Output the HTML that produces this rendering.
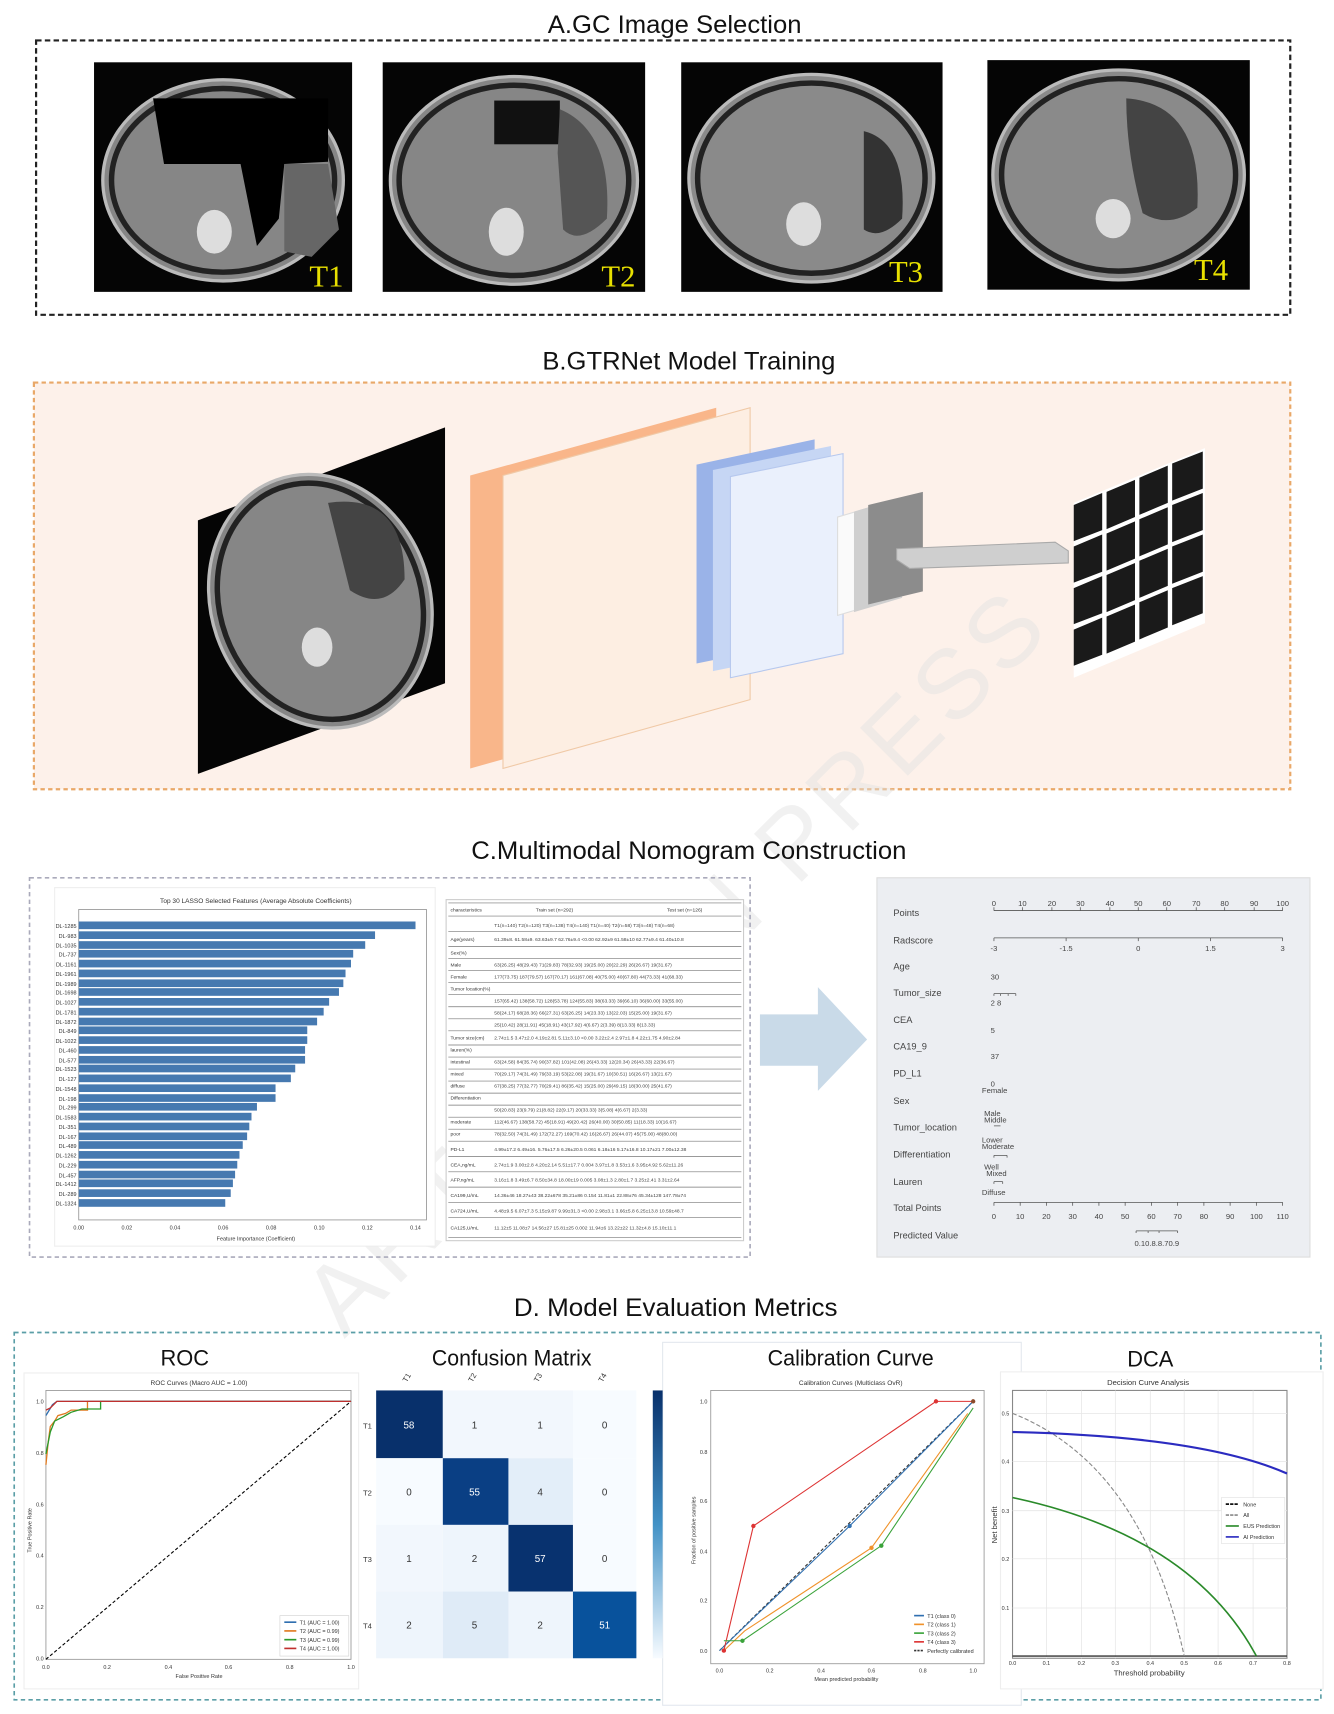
<!DOCTYPE html>
<html><head><meta charset="utf-8"><style>
html,body{margin:0;padding:0;background:#fff}
svg{display:block}
text{font-family:"Liberation Sans",sans-serif}
.tl{font-family:"Liberation Serif",serif}
</style></head><body>
<svg width="1334" height="1714" viewBox="0 0 1220 1568" preserveAspectRatio="none" xmlns="http://www.w3.org/2000/svg">
<rect width="1220" height="1568" fill="#fff"/>
<!-- A -->
<text x="617" y="30" font-size="23" text-anchor="middle" fill="#111" textLength="232" lengthAdjust="spacingAndGlyphs">A.GC Image Selection</text>
<rect x="33" y="37" width="1147" height="251" fill="none" stroke="#222" stroke-width="2" stroke-dasharray="5,3"/>
<g>
<rect x="86" y="57" width="236" height="210" fill="#050505"/>
<ellipse cx="204" cy="165" rx="110" ry="92" fill="#868686" stroke="#bbb" stroke-width="3"/>
<ellipse cx="204" cy="165" rx="102" ry="84" fill="none" stroke="#222" stroke-width="5"/>
<path d="M140,90 L300,90 L300,148 L260,150 L255,200 L235,225 L220,150 L150,150 Z" fill="#000"/>
<path d="M260,150 L300,150 L310,210 L285,235 L260,230 Z" fill="#666"/>
<ellipse cx="196" cy="212" rx="16" ry="20" fill="#ddd"/>
<text x="283" y="262" font-size="28" fill="#e8e000" class="tl">T1</text>
<rect x="350" y="57" width="240" height="210" fill="#050505"/>
<ellipse cx="470" cy="165" rx="113" ry="95" fill="#868686" stroke="#bbb" stroke-width="3"/>
<ellipse cx="470" cy="165" rx="105" ry="87" fill="none" stroke="#222" stroke-width="5"/>
<rect x="452" y="92" width="60" height="40" fill="#111"/>
<path d="M512,100 Q560,120 555,200 Q530,225 515,210 L510,140 Z" fill="#555"/>
<ellipse cx="463" cy="212" rx="16" ry="22" fill="#ddd"/>
<text x="550" y="262" font-size="28" fill="#e8e000" class="tl">T2</text>
<rect x="623" y="57" width="239" height="210" fill="#050505"/>
<ellipse cx="742" cy="163" rx="112" ry="95" fill="#8a8a8a" stroke="#bbb" stroke-width="3"/>
<ellipse cx="742" cy="163" rx="104" ry="87" fill="none" stroke="#222" stroke-width="5"/>
<path d="M790,120 Q830,130 825,200 Q805,220 790,210 Z" fill="#333"/>
<ellipse cx="735" cy="205" rx="16" ry="20" fill="#ddd"/>
<text x="813" y="258" font-size="28" fill="#e8e000" class="tl">T3</text>
<rect x="903" y="55" width="240" height="210" fill="#050505"/>
<ellipse cx="1023" cy="160" rx="115" ry="96" fill="#8a8a8a" stroke="#bbb" stroke-width="3"/>
<ellipse cx="1023" cy="160" rx="107" ry="88" fill="none" stroke="#222" stroke-width="5"/>
<path d="M1030,90 Q1100,95 1095,190 Q1070,210 1045,195 Q1030,140 1030,90 Z" fill="#444"/>
<ellipse cx="1018" cy="200" rx="16" ry="18" fill="#ddd"/>
<text x="1092" y="256" font-size="28" fill="#e8e000" class="tl">T4</text>
</g>
<!-- B -->
<text x="630" y="338" font-size="23" text-anchor="middle" fill="#111" textLength="268" lengthAdjust="spacingAndGlyphs">B.GTRNet Model Training</text>
<rect x="31" y="350" width="1149" height="372" fill="#fdf1ea" stroke="#e9a868" stroke-width="2" stroke-dasharray="4,3"/>
<polygon points="181,476 407,391 407,625 181,708" fill="#050505"/>
<ellipse cx="293" cy="550" rx="100" ry="118" fill="#868686" stroke="#bbb" stroke-width="3" transform="rotate(-20 293 550)"/>
<ellipse cx="293" cy="550" rx="92" ry="110" fill="none" stroke="#222" stroke-width="5" transform="rotate(-20 293 550)"/>
<path d="M300,460 Q370,450 370,530 Q350,560 320,540 Z" fill="#444"/>
<ellipse cx="290" cy="592" rx="14" ry="18" fill="#ddd"/>
<polygon points="430,435 655,373 655,640 430,703" fill="#f9b68a"/>
<polygon points="460,435 686,373 686,640 460,703" fill="#fdeee2" stroke="#f0c9a6" stroke-width="1"/>
<polygon points="637,425 745,402 745,585 637,607" fill="#9ab3e8"/>
<polygon points="652,430 760,408 760,592 652,614" fill="#c6d6f4"/>
<polygon points="668,436 771,415 771,598 668,620" fill="#eaf0fc" stroke="#b6c8ee"/>
<polygon points="766,473 810,460 810,550 766,563" fill="#fafafa" stroke="#ddd"/>
<polygon points="781,468 825,455 825,547 781,560" fill="#cfcfcf"/>
<polygon points="794,462 844,450 844,541 794,553" fill="#8c8c8c"/>
<polygon points="820,502 965,496 977,504 977,515 832,520 820,512" fill="#cfcfcf" stroke="#aaa"/>
<polygon points="982,460 1102,410 1102,570 982,620" fill="#fff"/>
<g fill="#1a1a1a">
<polygon points="982,462 1008,451 1008,485 982,495"/><polygon points="1012,450 1038,439 1038,473 1012,484"/><polygon points="1042,437 1068,426 1068,460 1042,471"/><polygon points="1072,424 1100,413 1100,447 1072,458"/>
<polygon points="982,500 1008,489 1008,523 982,533"/><polygon points="1012,488 1038,477 1038,511 1012,522"/><polygon points="1042,475 1068,464 1068,498 1042,509"/><polygon points="1072,462 1100,451 1100,485 1072,496"/>
<polygon points="982,538 1008,527 1008,561 982,571"/><polygon points="1012,526 1038,515 1038,549 1012,560"/><polygon points="1042,513 1068,502 1068,536 1042,547"/><polygon points="1072,500 1100,489 1100,523 1072,534"/>
<polygon points="982,576 1008,565 1008,599 982,609"/><polygon points="1012,564 1038,553 1038,587 1012,598"/><polygon points="1042,551 1068,540 1068,574 1042,585"/><polygon points="1072,538 1100,527 1100,561 1072,572"/>
</g>
<!-- watermark -->
<text x="640" y="900" font-size="90" fill="#e2e2e2" opacity="0.45" text-anchor="middle" transform="rotate(-45 640 900)" letter-spacing="6">ARTICLE IN PRESS</text>
<!-- C -->
<text x="630" y="786" font-size="23" text-anchor="middle" fill="#111" textLength="398" lengthAdjust="spacingAndGlyphs">C.Multimodal Nomogram Construction</text>
<rect x="27" y="803" width="659" height="347" fill="none" stroke="#aab" stroke-width="1.5" stroke-dasharray="4,3"/>
<rect x="50" y="812" width="348" height="328" fill="#fff" stroke="#eee"/>
<text x="234" y="826" font-size="6" text-anchor="middle" fill="#333">Top 30 LASSO Selected Features (Average Absolute Coefficients)</text>
<rect x="72" y="832" width="318" height="284" fill="none" stroke="#999" stroke-width="0.8"/>
<g fill="#4679b0">
<rect x="72" y="843" width="308" height="7"/><rect x="72" y="852" width="271" height="7"/><rect x="72" y="861" width="262" height="7"/><rect x="72" y="869" width="251" height="7"/><rect x="72" y="878" width="249" height="7"/><rect x="72" y="887" width="244" height="7"/><rect x="72" y="896" width="242" height="7"/><rect x="72" y="904" width="238" height="7"/><rect x="72" y="913" width="229" height="7"/><rect x="72" y="922" width="224" height="7"/><rect x="72" y="931" width="218" height="7"/><rect x="72" y="939" width="209" height="7"/><rect x="72" y="948" width="209" height="7"/><rect x="72" y="957" width="207" height="7"/><rect x="72" y="966" width="207" height="7"/><rect x="72" y="974" width="198" height="7"/><rect x="72" y="983" width="194" height="7"/><rect x="72" y="992" width="180" height="7"/><rect x="72" y="1001" width="180" height="7"/><rect x="72" y="1009" width="163" height="7"/><rect x="72" y="1018" width="158" height="7"/><rect x="72" y="1027" width="156" height="7"/><rect x="72" y="1036" width="154" height="7"/><rect x="72" y="1044" width="150" height="7"/><rect x="72" y="1053" width="147" height="7"/><rect x="72" y="1062" width="145" height="7"/><rect x="72" y="1071" width="143" height="7"/><rect x="72" y="1079" width="141" height="7"/><rect x="72" y="1088" width="139" height="7"/><rect x="72" y="1097" width="134" height="7"/>
</g>
<g font-size="5" fill="#333" text-anchor="end">
<text x="70" y="849">DL-1285</text><text x="70" y="858">DL-983</text><text x="70" y="867">DL-1035</text><text x="70" y="875">DL-737</text><text x="70" y="884">DL-1161</text><text x="70" y="893">DL-1961</text><text x="70" y="902">DL-1989</text><text x="70" y="910">DL-1698</text><text x="70" y="919">DL-1027</text><text x="70" y="928">DL-1781</text><text x="70" y="937">DL-1872</text><text x="70" y="945">DL-849</text><text x="70" y="954">DL-1022</text><text x="70" y="963">DL-460</text><text x="70" y="972">DL-577</text><text x="70" y="980">DL-1523</text><text x="70" y="989">DL-127</text><text x="70" y="998">DL-1548</text><text x="70" y="1007">DL-198</text><text x="70" y="1015">DL-299</text><text x="70" y="1024">DL-1583</text><text x="70" y="1033">DL-351</text><text x="70" y="1042">DL-167</text><text x="70" y="1050">DL-489</text><text x="70" y="1059">DL-1262</text><text x="70" y="1068">DL-229</text><text x="70" y="1077">DL-457</text><text x="70" y="1085">DL-1412</text><text x="70" y="1094">DL-289</text><text x="70" y="1103">DL-1324</text>
</g>
<g font-size="5" fill="#333" text-anchor="middle">
<text x="72" y="1125">0.00</text><text x="116" y="1125">0.02</text><text x="160" y="1125">0.04</text><text x="204" y="1125">0.06</text><text x="248" y="1125">0.08</text><text x="292" y="1125">0.10</text><text x="336" y="1125">0.12</text><text x="380" y="1125">0.14</text>
<text x="234" y="1135">Feature Importance (Coefficient)</text>
</g>
<!-- table -->
<rect x="408" y="823" width="272" height="312" fill="#fff" stroke="#ccc"/>
<g stroke="#777" stroke-width="0.6">
<line x1="410" y1="826" x2="678" y2="826"/><line x1="410" y1="838" x2="678" y2="838"/><line x1="410" y1="852" x2="678" y2="852"/><line x1="410" y1="866" x2="678" y2="866"/><line x1="410" y1="877" x2="678" y2="877"/><line x1="410" y1="888" x2="678" y2="888"/><line x1="410" y1="899" x2="678" y2="899"/><line x1="410" y1="910" x2="678" y2="910"/><line x1="410" y1="921" x2="678" y2="921"/><line x1="410" y1="932" x2="678" y2="932"/><line x1="410" y1="943" x2="678" y2="943"/><line x1="410" y1="956" x2="678" y2="956"/><line x1="410" y1="967" x2="678" y2="967"/><line x1="410" y1="978" x2="678" y2="978"/><line x1="410" y1="989" x2="678" y2="989"/><line x1="410" y1="1000" x2="678" y2="1000"/><line x1="410" y1="1011" x2="678" y2="1011"/><line x1="410" y1="1022" x2="678" y2="1022"/><line x1="410" y1="1033" x2="678" y2="1033"/><line x1="410" y1="1044" x2="678" y2="1044"/><line x1="410" y1="1058" x2="678" y2="1058"/><line x1="410" y1="1072" x2="678" y2="1072"/><line x1="410" y1="1086" x2="678" y2="1086"/><line x1="410" y1="1100" x2="678" y2="1100"/><line x1="410" y1="1114" x2="678" y2="1114"/><line x1="410" y1="1132" x2="678" y2="1132"/>
</g>
<g font-size="4.5" fill="#333">
<text x="412" y="834">characteristics</text><text x="490" y="834">Train set (n=292)</text><text x="610" y="834">Test set (n=126)</text>
<text x="412" y="861">Age(years)</text><text x="412" y="873">Sex(%)</text><text x="412" y="884">Male</text><text x="412" y="895">Female</text><text x="412" y="906">Tumor location(%)</text><text x="412" y="951">Tumor size(cm)</text><text x="412" y="962">lauren(%)</text><text x="412" y="973">intestinal</text><text x="412" y="984">mixed</text><text x="412" y="995">diffuse</text><text x="412" y="1006">Differentiation</text><text x="412" y="1028">moderate</text><text x="412" y="1039">poor</text><text x="412" y="1053">PD-L1</text><text x="412" y="1067">CEA,ng/mL</text><text x="412" y="1081">AFP,ng/mL</text><text x="412" y="1095">CA199,U/mL</text><text x="412" y="1109">CA724,U/mL</text><text x="412" y="1125">CA125,U/mL</text>
</g>
<g font-size="4.5" fill="#444">
<text x="452" y="848">T1(n=140) T2(n=120) T3(n=138) T4(n=140)   T1(n=40) T2(n=58) T3(n=48) T4(n=68)</text>
<text x="452" y="861">61.39±8.  61.58±9.  63.63±9.7  62.76±9.4  &lt;0.00  62.92±9  61.58±10  62.77±9.4  61.40±10.8</text>
<text x="452" y="884">63(26.25) 48(29.43) 71(29.83) 78(32.93)   19(25.00) 20(22.29) 26(26.67) 19(31.67)</text>
<text x="452" y="895">177(73.75) 187(79.57) 167(70.17) 161(67.08)  40(75.00) 40(67.80) 44(73.33) 41(68.33)</text>
<text x="452" y="917">157(65.42) 138(58.72) 128(53.78) 124(55.83)  38(63.33) 39(66.10) 36(60.00) 33(55.00)</text>
<text x="452" y="928">58(24.17) 68(28.36) 66(27.31) 63(26.25)   14(23.33) 13(22.03) 15(25.00) 19(31.67)</text>
<text x="452" y="939">25(10.42) 28(11.91) 45(18.91) 43(17.92)   4(6.67)  2(3.39)  8(13.33) 8(13.33)</text>
<text x="452" y="951">2.74±1.5  3.47±2.0  4.19±2.81  5.11±3.10  &lt;0.00  3.22±2.4  2.97±1.8  4.22±1.75  4.90±2.84</text>
<text x="452" y="973">63(24.58) 84(35.74) 90(37.82) 101(42.08)  26(43.33) 12(20.34) 26(43.33) 22(36.67)</text>
<text x="452" y="984">70(29.17) 74(31.49) 79(33.19) 53(22.08)   19(31.67) 10(30.51) 16(26.67) 13(21.67)</text>
<text x="452" y="995">67(38.25) 77(32.77) 70(29.41) 86(35.42)   15(25.00) 29(49.15) 18(30.00) 25(41.67)</text>
<text x="452" y="1017">50(20.83) 23(9.79) 21(8.82) 22(9.17)     20(33.33) 3(5.08)  4(6.67)  2(3.33)</text>
<text x="452" y="1028">112(46.67) 138(58.72) 45(18.91) 49(20.42)  26(40.00) 30(50.85) 11(18.33) 10(16.67)</text>
<text x="452" y="1039">78(32.50) 74(31.49) 172(72.27) 169(70.42)  16(26.67) 26(44.07) 45(75.00) 48(80.00)</text>
<text x="452" y="1053">4.99±17.2 6.49±16. 5.76±17.5 6.26±20.5  0.061  6.18±16  5.17±16.8  10.17±21  7.00±12.38</text>
<text x="452" y="1067">2.74±1.9  3.00±2.8  4.20±2.14  5.51±17.7  0.004  3.97±1.8  3.53±1.6  3.95±4.92  5.62±11.26</text>
<text x="452" y="1081">3.16±1.8  3.49±6.7  8.50±34.8  18.00±19  0.005  3.08±1.3  2.80±1.7  3.25±2.41  3.31±2.64</text>
<text x="452" y="1095">14.36±46  18.27±43  38.22±678  35.21±86  0.154  11.81±1  22.88±76  45.34±128  147.78±74</text>
<text x="452" y="1109">4.48±9.5  6.07±7.3  5.15±9.87  9.99±31.3  &lt;0.00  2.98±3.1  3.66±5.8  6.25±13.8  10.59±48.7</text>
<text x="452" y="1125">11.12±5   11.08±7   14.56±27  15.81±25  0.002  11.94±6  13.22±22  11.32±4.8  15.10±11.1</text>
</g>
<!-- arrow -->
<polygon points="695,928 748,928 748,903 793,951 748,998 748,975 695,975" fill="#c9dae8"/>
<!-- nomogram -->
<rect x="802" y="803" width="396" height="347" fill="#eceef2" stroke="#ddd"/>
<g font-size="8.5" fill="#444">
<text x="817" y="838">Points</text><text x="817" y="863">Radscore</text><text x="817" y="887">Age</text><text x="817" y="911">Tumor_size</text><text x="817" y="936">CEA</text><text x="817" y="960">CA19_9</text><text x="817" y="985">PD_L1</text><text x="817" y="1010">Sex</text><text x="817" y="1034">Tumor_location</text><text x="817" y="1059">Differentiation</text><text x="817" y="1084">Lauren</text><text x="817" y="1108">Total Points</text><text x="817" y="1133">Predicted Value</text>
</g>
<g stroke="#555" stroke-width="0.7" fill="none">
<line x1="909" y1="833" x2="1173" y2="833"/><line x1="909" y1="858" x2="1173" y2="858"/><line x1="909" y1="1100" x2="1173" y2="1100"/>
<path d="M909,833v-3M935,833v-3M962,833v-3M988,833v-3M1015,833v-3M1041,833v-3M1067,833v-3M1094,833v-3M1120,833v-3M1147,833v-3M1173,833v-3"/>
<path d="M909,858v3M975,858v3M1041,858v3M1107,858v3M1173,858v3"/>
<path d="M909,1100v3M933,1100v3M957,1100v3M981,1100v3M1005,1100v3M1029,1100v3M1053,1100v3M1077,1100v3M1101,1100v3M1125,1100v3M1149,1100v3M1173,1100v3"/>
<path d="M909,909h20M909,909v2M915,909v2M922,909v2M929,909v2M909,1057h12M909,1057v2M921,1057v2M909,1081h8M909,1081v2M917,1081v2M909,1030h6M1039,1126h38M1039,1126v2M1050,1126v2M1060,1126v2M1077,1126v2"/>
</g>
<g font-size="7" fill="#444" text-anchor="middle">
<text x="909" y="829">0</text><text x="935" y="829">10</text><text x="962" y="829">20</text><text x="988" y="829">30</text><text x="1015" y="829">40</text><text x="1041" y="829">50</text><text x="1067" y="829">60</text><text x="1094" y="829">70</text><text x="1120" y="829">80</text><text x="1147" y="829">90</text><text x="1173" y="829">100</text>
<text x="909" y="870">-3</text><text x="975" y="870">-1.5</text><text x="1041" y="870">0</text><text x="1107" y="870">1.5</text><text x="1173" y="870">3</text>
<text x="909" y="1115">0</text><text x="933" y="1115">10</text><text x="957" y="1115">20</text><text x="981" y="1115">30</text><text x="1005" y="1115">40</text><text x="1029" y="1115">50</text><text x="1053" y="1115">60</text><text x="1077" y="1115">70</text><text x="1101" y="1115">80</text><text x="1125" y="1115">90</text><text x="1149" y="1115">100</text><text x="1173" y="1115">110</text>
<text x="1058" y="1140">0.10.8.8.70.9</text>
</g>
<g font-size="7" fill="#444">
<text x="906" y="896">30</text><text x="906" y="920">2  8</text><text x="906" y="945">5</text><text x="906" y="969">37</text><text x="906" y="994">0</text>
<text x="898" y="1000">Female</text><text x="900" y="1021">Male</text><text x="900" y="1027">Middle</text><text x="898" y="1045">Lower</text><text x="898" y="1051">Moderate</text><text x="900" y="1070">Well</text><text x="902" y="1076">Mixed</text><text x="898" y="1093">Diffuse</text>
</g>
<!-- D -->
<text x="618" y="1204" font-size="23" text-anchor="middle" fill="#111" textLength="296" lengthAdjust="spacingAndGlyphs">D.  Model Evaluation Metrics</text>
<rect x="13" y="1219" width="1195" height="336" fill="none" stroke="#5a9ea6" stroke-width="1.5" stroke-dasharray="4,3"/>
<text x="169" y="1249" font-size="20" text-anchor="middle" fill="#111">ROC</text>
<text x="468" y="1249" font-size="20" text-anchor="middle" fill="#111" textLength="146" lengthAdjust="spacingAndGlyphs">Confusion Matrix</text>
<rect x="606" y="1228" width="328" height="332" fill="#fff" stroke="#e3e8ee"/>
<text x="778" y="1249" font-size="20" text-anchor="middle" fill="#111" textLength="152" lengthAdjust="spacingAndGlyphs">Calibration Curve</text>
<text x="1052" y="1250" font-size="20" text-anchor="middle" fill="#111">DCA</text>
<!-- ROC -->
<rect x="22" y="1256" width="306" height="289" fill="#fff" stroke="#eee"/>
<text x="182" y="1267" font-size="6" text-anchor="middle" fill="#333">ROC Curves (Macro AUC = 1.00)</text>
<rect x="42" y="1272" width="279" height="246" fill="none" stroke="#999" stroke-width="0.8"/>
<line x1="42" y1="1518" x2="321" y2="1282" stroke="#000" stroke-dasharray="3,2" stroke-width="1"/>
<polyline points="42,1340 44,1320 46,1305 50,1300 53,1295 60,1293 65,1290 80,1290 80,1282 321,1282" fill="none" stroke="#e07a20" stroke-width="1.2"/>
<polyline points="42,1330 46,1310 50,1300 58,1296 65,1292 75,1289 92,1289 92,1282 98,1282 321,1282" fill="none" stroke="#2a9a2a" stroke-width="1.2"/>
<polyline points="42,1295 45,1290 48,1285 52,1282 321,1282" fill="none" stroke="#2f6fb0" stroke-width="1.2"/>
<polyline points="42,1290 46,1288 52,1282 321,1282" fill="none" stroke="#c0302e" stroke-width="1.2"/>
<g font-size="5" fill="#333" text-anchor="end"><text x="40" y="1284">1.0</text><text x="40" y="1331">0.8</text><text x="40" y="1378">0.6</text><text x="40" y="1425">0.4</text><text x="40" y="1472">0.2</text><text x="40" y="1519">0.0</text></g>
<g font-size="5" fill="#333" text-anchor="middle"><text x="42" y="1527">0.0</text><text x="98" y="1527">0.2</text><text x="154" y="1527">0.4</text><text x="209" y="1527">0.6</text><text x="265" y="1527">0.8</text><text x="321" y="1527">1.0</text><text x="182" y="1535">False Positive Rate</text></g>
<text x="29" y="1400" font-size="5" fill="#333" transform="rotate(-90 29 1400)" text-anchor="middle">True Positive Rate</text>
<rect x="256" y="1478" width="63" height="37" fill="#fff" stroke="#ccc" stroke-width="0.5"/>
<g font-size="5" fill="#333"><text x="274" y="1486">T1 (AUC = 1.00)</text><text x="274" y="1494">T2 (AUC = 0.99)</text><text x="274" y="1502">T3 (AUC = 0.99)</text><text x="274" y="1510">T4 (AUC = 1.00)</text></g>
<g stroke-width="1.5"><line x1="260" y1="1484" x2="271" y2="1484" stroke="#2f6fb0"/><line x1="260" y1="1492" x2="271" y2="1492" stroke="#e07a20"/><line x1="260" y1="1500" x2="271" y2="1500" stroke="#2a9a2a"/><line x1="260" y1="1508" x2="271" y2="1508" stroke="#c0302e"/></g>
<!-- Confusion -->
<g>
<rect x="344" y="1272" width="61" height="62" fill="#08306b"/><rect x="405" y="1272" width="60" height="62" fill="#f2f7fd"/><rect x="465" y="1272" width="59" height="62" fill="#f2f7fd"/><rect x="524" y="1272" width="58" height="62" fill="#f7fbff"/>
<rect x="344" y="1334" width="61" height="61" fill="#f7fbff"/><rect x="405" y="1334" width="60" height="61" fill="#0a3f84"/><rect x="465" y="1334" width="59" height="61" fill="#e3eef9"/><rect x="524" y="1334" width="58" height="61" fill="#f7fbff"/>
<rect x="344" y="1395" width="61" height="61" fill="#f2f7fd"/><rect x="405" y="1395" width="60" height="61" fill="#eef5fc"/><rect x="465" y="1395" width="59" height="61" fill="#08326f"/><rect x="524" y="1395" width="58" height="61" fill="#f7fbff"/>
<rect x="344" y="1456" width="61" height="61" fill="#eef5fc"/><rect x="405" y="1456" width="60" height="61" fill="#dfebf7"/><rect x="465" y="1456" width="59" height="61" fill="#eef5fc"/><rect x="524" y="1456" width="58" height="61" fill="#08529c"/>
</g>
<g font-size="9" text-anchor="middle">
<text x="374" y="1307" fill="#fff">58</text><text x="434" y="1307" fill="#333">1</text><text x="494" y="1307" fill="#333">1</text><text x="553" y="1307" fill="#333">0</text>
<text x="374" y="1368" fill="#333">0</text><text x="434" y="1368" fill="#fff">55</text><text x="494" y="1368" fill="#333">4</text><text x="553" y="1368" fill="#333">0</text>
<text x="374" y="1429" fill="#333">1</text><text x="434" y="1429" fill="#333">2</text><text x="494" y="1429" fill="#fff">57</text><text x="553" y="1429" fill="#333">0</text>
<text x="374" y="1490" fill="#333">2</text><text x="434" y="1490" fill="#333">5</text><text x="494" y="1490" fill="#333">2</text><text x="553" y="1490" fill="#fff">51</text>
</g>
<g font-size="7" fill="#333"><text x="332" y="1307">T1</text><text x="332" y="1368">T2</text><text x="332" y="1429">T3</text><text x="332" y="1490">T4</text>
<text x="372" y="1265" transform="rotate(-60 372 1265)">T1</text><text x="432" y="1265" transform="rotate(-60 432 1265)">T2</text><text x="492" y="1265" transform="rotate(-60 492 1265)">T3</text><text x="551" y="1265" transform="rotate(-60 551 1265)">T4</text></g>
<defs><linearGradient id="cb" x1="0" y1="0" x2="0" y2="1"><stop offset="0" stop-color="#08306b"/><stop offset="0.5" stop-color="#4292c6"/><stop offset="1" stop-color="#f7fbff"/></linearGradient></defs>
<rect x="597" y="1272" width="9" height="245" fill="url(#cb)"/>
<!-- Calibration -->
<text x="778" y="1267" font-size="6" text-anchor="middle" fill="#333">Calibration Curves (Multiclass OvR)</text>
<rect x="650" y="1272" width="250" height="250" fill="none" stroke="#999" stroke-width="0.8"/>
<line x1="658" y1="1510" x2="890" y2="1282" stroke="#333" stroke-dasharray="3,2"/>
<polyline points="658,1510 777,1396 890,1282" fill="none" stroke="#2f6fb0" stroke-width="1"/>
<polyline points="662,1510 689,1396 856,1282 890,1282" fill="none" stroke="#d33" stroke-width="1"/>
<polyline points="662,1510 681,1492 797,1416 885,1293" fill="none" stroke="#f0922a" stroke-width="1"/>
<polyline points="662,1501 679,1501 806,1414 890,1288" fill="none" stroke="#3aa33a" stroke-width="1"/>
<g><circle cx="777" cy="1396" r="2" fill="#2f6fb0"/><circle cx="689" cy="1396" r="2" fill="#d33"/><circle cx="856" cy="1282" r="2" fill="#d33"/><circle cx="797" cy="1416" r="2" fill="#f0922a"/><circle cx="806" cy="1414" r="2" fill="#3aa33a"/><circle cx="679" cy="1501" r="2" fill="#3aa33a"/><circle cx="662" cy="1510" r="2" fill="#d33"/><circle cx="890" cy="1282" r="2" fill="#8b4a2a"/></g>
<g font-size="5" fill="#333" text-anchor="end"><text x="647" y="1284">1.0</text><text x="647" y="1330">0.8</text><text x="647" y="1375">0.6</text><text x="647" y="1421">0.4</text><text x="647" y="1466">0.2</text><text x="647" y="1512">0.0</text></g>
<g font-size="5" fill="#333" text-anchor="middle"><text x="658" y="1530">0.0</text><text x="704" y="1530">0.2</text><text x="751" y="1530">0.4</text><text x="797" y="1530">0.6</text><text x="844" y="1530">0.8</text><text x="890" y="1530">1.0</text><text x="774" y="1538">Mean predicted probability</text></g>
<text x="636" y="1400" font-size="5" fill="#333" transform="rotate(-90 636 1400)" text-anchor="middle">Fraction of positive samples</text>
<g font-size="5" fill="#333"><text x="848" y="1480">T1 (class 0)</text><text x="848" y="1488">T2 (class 1)</text><text x="848" y="1496">T3 (class 2)</text><text x="848" y="1504">T4 (class 3)</text><text x="848" y="1512">Perfectly calibrated</text></g>
<g stroke-width="1.5"><line x1="836" y1="1478" x2="845" y2="1478" stroke="#2f6fb0"/><line x1="836" y1="1486" x2="845" y2="1486" stroke="#f0922a"/><line x1="836" y1="1494" x2="845" y2="1494" stroke="#3aa33a"/><line x1="836" y1="1502" x2="845" y2="1502" stroke="#d33"/><line x1="836" y1="1510" x2="845" y2="1510" stroke="#333" stroke-dasharray="2,1"/></g>
<!-- DCA -->
<rect x="915" y="1255" width="295" height="290" fill="#fff" stroke="#eee"/>
<text x="1050" y="1267" font-size="7" text-anchor="middle" fill="#333">Decision Curve Analysis</text>
<rect x="926" y="1272" width="251" height="245" fill="none" stroke="#888" stroke-width="1"/>
<g stroke="#e6e6e6" stroke-width="0.7"><line x1="926" y1="1293" x2="1177" y2="1293"/><line x1="926" y1="1337" x2="1177" y2="1337"/><line x1="926" y1="1382" x2="1177" y2="1382"/><line x1="926" y1="1426" x2="1177" y2="1426"/><line x1="926" y1="1471" x2="1177" y2="1471"/>
<line x1="957" y1="1272" x2="957" y2="1517"/><line x1="989" y1="1272" x2="989" y2="1517"/><line x1="1020" y1="1272" x2="1020" y2="1517"/><line x1="1052" y1="1272" x2="1052" y2="1517"/><line x1="1083" y1="1272" x2="1083" y2="1517"/><line x1="1114" y1="1272" x2="1114" y2="1517"/><line x1="1146" y1="1272" x2="1146" y2="1517"/></g>
<line x1="926" y1="1515" x2="1177" y2="1515" stroke="#333" stroke-width="1.2"/>
<path d="M926,1293 Q1045,1340 1083,1515" fill="none" stroke="#888" stroke-width="1" stroke-dasharray="4,2"/>
<path d="M926,1370 Q1090,1405 1149,1515" fill="none" stroke="#2a8a2a" stroke-width="1.5"/>
<path d="M926,1310 Q1100,1314 1177,1348" fill="none" stroke="#2b2bc0" stroke-width="2"/>
<g font-size="5" fill="#333" text-anchor="end"><text x="923" y="1295">0.5</text><text x="923" y="1339">0.4</text><text x="923" y="1384">0.3</text><text x="923" y="1428">0.2</text><text x="923" y="1473">0.1</text></g>
<g font-size="5" fill="#333" text-anchor="middle"><text x="926" y="1523">0.0</text><text x="957" y="1523">0.1</text><text x="989" y="1523">0.2</text><text x="1020" y="1523">0.3</text><text x="1052" y="1523">0.4</text><text x="1083" y="1523">0.5</text><text x="1114" y="1523">0.6</text><text x="1146" y="1523">0.7</text><text x="1177" y="1523">0.8</text></g>
<text x="1051" y="1533" font-size="7" fill="#333" text-anchor="middle">Threshold probability</text>
<text x="912" y="1395" font-size="7" fill="#333" transform="rotate(-90 912 1395)" text-anchor="middle">Net benefit</text>
<rect x="1117" y="1370" width="58" height="42" fill="#fff" stroke="#ddd" stroke-width="0.5"/>
<g font-size="5" fill="#333"><text x="1137" y="1378">None</text><text x="1137" y="1388">All</text><text x="1137" y="1398">EUS Prediction</text><text x="1137" y="1408">AI Prediction</text></g>
<g stroke-width="1.5"><line x1="1121" y1="1376" x2="1133" y2="1376" stroke="#111" stroke-dasharray="3,1"/><line x1="1121" y1="1386" x2="1133" y2="1386" stroke="#888" stroke-dasharray="3,1"/><line x1="1121" y1="1396" x2="1133" y2="1396" stroke="#2a8a2a"/><line x1="1121" y1="1406" x2="1133" y2="1406" stroke="#2b2bc0"/></g>
</svg>
</body></html>
